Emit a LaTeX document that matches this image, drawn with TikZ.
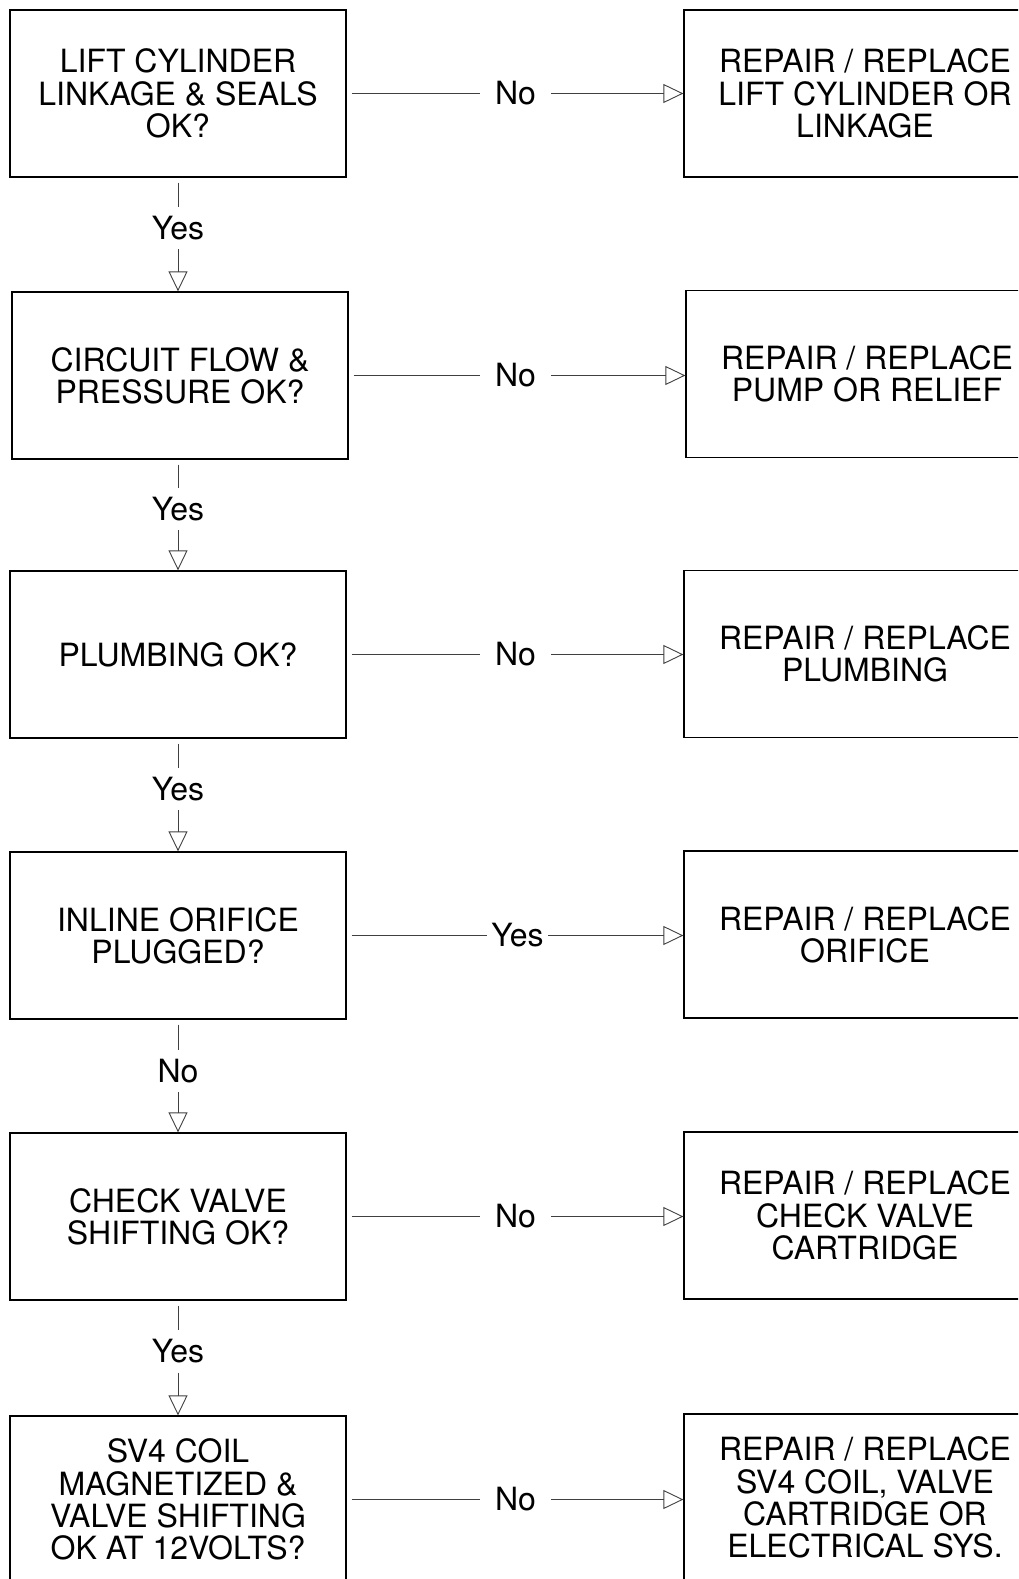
\documentclass[tikz,border=0pt]{standalone}
\usepackage{fontspec}
\setmainfont{TeX Gyre Heros}
\usetikzlibrary{arrows.meta,calc,positioning}

\begin{document}
\begin{tikzpicture}[x=1pt, y=1pt,
  box/.style={rectangle, draw, line width=1.3pt, minimum width=336pt, minimum height=167pt,
              inner sep=0pt, align=center, font=\fontsize{32}{32.2}\selectfont},
  fixbox/.style={box, minimum width=362pt},
  hlab/.style={inner xsep=15pt, inner ysep=0pt, font=\fontsize{32}{32.2}\selectfont},
  vlab/.style={inner xsep=0pt, inner ysep=9pt, font=\fontsize{32}{32.2}\selectfont},
  link/.style={draw=black!75, line width=0.9pt},
  tip/.style={link, -{Triangle[open, length=20pt, width=19pt]}}]

  \clip (0,0) rectangle (1018,-1579);

  % questions
  \node [box] (q1) at (178,-93.5)  {LIFT CYLINDER\\LINKAGE \& SEALS\\OK?};
  \node [box] (q2) at (180,-375.5) {CIRCUIT FLOW \&\\PRESSURE OK?};
  \node [box] (q3) at (178,-654.5) {PLUMBING OK?};
  \node [box] (q4) at (178,-935.5) {INLINE ORIFICE\\PLUGGED?};
  \node [box] (q5) at (178,-1216.5) {CHECK VALVE\\SHIFTING OK?};
  \node [box] (q6) at (178,-1499.5) {SV4 COIL\\MAGNETIZED \&\\VALVE SHIFTING\\OK AT 12VOLTS?};

  % repairs
  \node [fixbox] (fix1) at (865,-93.5)  {REPAIR / REPLACE\\LIFT CYLINDER OR\\LINKAGE};
  \node [fixbox] (fix2) at (867,-374)   {REPAIR / REPLACE\\PUMP OR RELIEF};
  \node [fixbox] (fix3) at (865,-654)   {REPAIR / REPLACE\\PLUMBING};
  \node [fixbox] (fix4) at (865,-934.5) {REPAIR / REPLACE\\ORIFICE};
  \node [fixbox] (fix5) at (865,-1215.5) {REPAIR / REPLACE\\CHECK VALVE\\CARTRIDGE};
  \node [fixbox] (fix6) at (865,-1497.5) {REPAIR / REPLACE\\SV4 COIL, VALVE\\CARTRIDGE OR\\ELECTRICAL SYS.};

  % labels
  \node [hlab] (h1) at (515.5,-93.5)  {No};
  \node [hlab] (h2) at (515.5,-375.5) {No};
  \node [hlab] (h3) at (515.5,-654.5) {No};
  \node [hlab, inner xsep=4pt] (h4) at (517.5,-935.5) {Yes};
  \node [hlab] (h5) at (515.5,-1216.5) {No};
  \node [hlab] (h6) at (515.5,-1499.5) {No};

  \node [vlab] (v1) at (178,-228)    {Yes};
  \node [vlab] (v2) at (178,-509)    {Yes};
  \node [vlab] (v3) at (178,-789)    {Yes};
  \node [vlab] (v4) at (178,-1071)   {No};
  \node [vlab] (v5) at (178,-1351.5) {Yes};

  \begin{scope}[shorten <=5pt]
   \draw [link] (q1.east) to (h1);
   \draw [link] (q2.east) to (h2);
   \draw [link] (q3.east) to (h3);
   \draw [link] (q4.east) to (h4);
   \draw [link] (q5.east) to (h5);
   \draw [link] (q6.east) to (h6);
   \draw [link] (q1.south) to (v1);
   \draw [link] (q2.south -| v2) to (v2);
   \draw [link] (q3.south) to (v3);
   \draw [link] (q4.south) to (v4);
   \draw [link] (q5.south) to (v5);
  \end{scope}

  \draw [tip] (h1) to (fix1.west |- h1);
  \draw [tip] (h2) to (fix2.west |- h2);
  \draw [tip] (h3) to (fix3.west |- h3);
  \draw [tip] (h4) to (fix4.west |- h4);
  \draw [tip] (h5) to (fix5.west |- h5);
  \draw [tip] (h6) to (fix6.west |- h6);
  \draw [tip] (v1) to (q2.north -| v1);
  \draw [tip] (v2) to (q3.north);
  \draw [tip] (v3) to (q4.north);
  \draw [tip] (v4) to (q5.north);
  \draw [tip] (v5) to (q6.north);
\end{tikzpicture}
\end{document}
